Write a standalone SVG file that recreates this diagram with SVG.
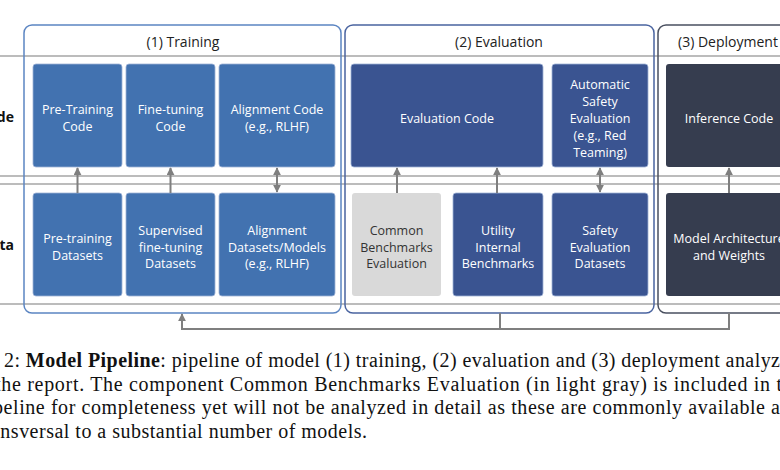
<svg xmlns="http://www.w3.org/2000/svg" width="780" height="470" viewBox="0 0 780 470">
<defs>
<marker id="ah" viewBox="0 0 10 10" refX="9" refY="5" markerWidth="4" markerHeight="4" orient="auto-start-reverse"><path d="M0,0 L10,5 L0,10 z" fill="#7f7f7f"/></marker>
<style>
.grid{stroke:#a6a6a6;stroke-width:1.3;fill:none}
.cont{fill:none;stroke-width:1.5}
.hd{font-family:"Open Sans","Liberation Sans",sans-serif;font-size:14px;fill:#222;text-anchor:middle}
.bx{stroke:#9fb3d6;stroke-width:0.8}
.t{font-family:"Open Sans","Liberation Sans",sans-serif;font-size:12.5px;font-weight:500;fill:#fff;text-anchor:middle}
.tg{font-family:"Open Sans","Liberation Sans",sans-serif;font-size:12.5px;fill:#333;text-anchor:middle}
.lb{font-family:"Open Sans","Liberation Sans",sans-serif;font-size:14px;font-weight:bold;fill:#111;text-anchor:end}
.cap{font-family:"Liberation Serif",serif;font-size:20px;fill:#111}
.c{stroke:#7f7f7f;stroke-width:2;fill:none}
</style>
</defs>
<rect width="780" height="470" fill="#fff"/>
<g id="grid">
<line class="grid" x1="0" y1="56" x2="780" y2="56"/>
<line class="grid" x1="0" y1="176" x2="780" y2="176"/>
<line class="grid" x1="0" y1="184" x2="780" y2="184"/>
<line class="grid" x1="0" y1="304" x2="780" y2="304"/>
</g>
<text class="lb" x="14" y="122">Code</text>
<text class="lb" x="14" y="250">Data</text>
<g id="training"><rect class="cont" x="24" y="25" width="317" height="288" rx="8" stroke="#5b85c2"/><text class="hd" x="183" y="47">(1) Training</text></g>
<g id="evaluation"><rect class="cont" x="345" y="25" width="309" height="288" rx="8" stroke="#4a64a0"/><text class="hd" x="499" y="47">(2) Evaluation</text></g>
<g id="deployment"><rect class="cont" x="658" y="25" width="140" height="288" rx="8" stroke="#4a5060"/><text class="hd" x="728" y="47">(3) Deployment</text></g>
<g id="pretrain-code"><rect class="bx" x="33" y="64" width="89" height="103" rx="3" fill="#4272b0"/><text class="t" x="77.5" y="114">Pre-Training</text><text class="t" x="77.5" y="131">Code</text></g>
<g id="finetune-code"><rect class="bx" x="126" y="64" width="89" height="103" rx="3" fill="#4272b0"/><text class="t" x="170.5" y="114">Fine-tuning</text><text class="t" x="170.5" y="131">Code</text></g>
<g id="align-code"><rect class="bx" x="219" y="64" width="116" height="103" rx="3" fill="#4272b0"/><text class="t" x="277" y="114">Alignment Code</text><text class="t" x="277" y="131">(e.g., RLHF)</text></g>
<g id="pretrain-data"><rect class="bx" x="33" y="193" width="89" height="103" rx="3" fill="#4272b0"/><text class="t" x="77.5" y="243">Pre-training</text><text class="t" x="77.5" y="260">Datasets</text></g>
<g id="sft-data"><rect class="bx" x="126" y="193" width="89" height="103" rx="3" fill="#4272b0"/><text class="t" x="170.5" y="235">Supervised</text><text class="t" x="170.5" y="252">fine-tuning</text><text class="t" x="170.5" y="268">Datasets</text></g>
<g id="align-data"><rect class="bx" x="219" y="193" width="116" height="103" rx="3" fill="#4272b0"/><text class="t" x="277" y="235">Alignment</text><text class="t" x="277" y="252">Datasets/Models</text><text class="t" x="277" y="268">(e.g., RLHF)</text></g>
<g id="eval-code"><rect class="bx" x="351" y="64" width="192" height="103" rx="3" fill="#3a5491"/><text class="t" x="447" y="123">Evaluation Code</text></g>
<g id="auto-safety"><rect class="bx" x="552" y="64" width="96" height="103" rx="3" fill="#3a5491"/><text class="t" x="600" y="89">Automatic</text><text class="t" x="600" y="106">Safety</text><text class="t" x="600" y="123">Evaluation</text><text class="t" x="600" y="140">(e.g., Red</text><text class="t" x="600" y="157">Teaming)</text></g>
<g id="common"><rect x="352" y="193" width="89" height="103" rx="3" fill="#d9d9d9"/><text class="tg" x="396.5" y="235">Common</text><text class="tg" x="396.5" y="252">Benchmarks</text><text class="tg" x="396.5" y="268">Evaluation</text></g>
<g id="utility"><rect class="bx" x="453" y="193" width="90" height="103" rx="3" fill="#3a5491"/><text class="t" x="498" y="235">Utility</text><text class="t" x="498" y="252">Internal</text><text class="t" x="498" y="268">Benchmarks</text></g>
<g id="safety-data"><rect class="bx" x="552" y="193" width="96" height="103" rx="3" fill="#3a5491"/><text class="t" x="600" y="235">Safety</text><text class="t" x="600" y="252">Evaluation</text><text class="t" x="600" y="268">Datasets</text></g>
<g id="inference"><rect x="666" y="64" width="130" height="103" rx="3" fill="#363d4f"/><text class="t" x="729" y="123">Inference Code</text></g>
<g id="model"><rect x="666" y="193" width="130" height="103" rx="3" fill="#363d4f"/><text class="t" x="729" y="243">Model Architecture</text><text class="t" x="729" y="260">and Weights</text></g>
<g id="connectors">
<line class="c" x1="77.5" y1="193" x2="77.5" y2="168" marker-end="url(#ah)"/>
<line class="c" x1="170.5" y1="193" x2="170.5" y2="168" marker-end="url(#ah)"/>
<line class="c" x1="277" y1="192" x2="277" y2="168" marker-start="url(#ah)" marker-end="url(#ah)"/>
<line class="c" x1="397" y1="193" x2="397" y2="168" marker-end="url(#ah)"/>
<line class="c" x1="497" y1="193" x2="497" y2="168" marker-end="url(#ah)"/>
<line class="c" x1="600" y1="192" x2="600" y2="168" marker-start="url(#ah)" marker-end="url(#ah)"/>
<line class="c" x1="729" y1="193" x2="729" y2="168" marker-end="url(#ah)"/>
<polyline class="c" points="729,313 729,329 182,329 182,314" marker-end="url(#ah)"/>
<line class="c" x1="500" y1="313" x2="500" y2="329"/>
</g>
<g id="caption">
<text class="cap" x="4" y="367" textLength="776" lengthAdjust="spacing">2: <tspan font-weight="bold">Model Pipeline</tspan>: pipeline of model (1) training, (2) evaluation and (3) deployment analyz</text>
<text class="cap" x="-5" y="391" textLength="787" lengthAdjust="spacing">the report. The component Common Benchmarks Evaluation (in light gray) is included in t</text>
<text class="cap" x="-7" y="414" textLength="787" lengthAdjust="spacing">peline for completeness yet will not be analyzed in detail as these are commonly available a</text>
<text class="cap" x="-9" y="438" textLength="376" lengthAdjust="spacing">ansversal to a substantial number of models.</text>
</g>
</svg>
